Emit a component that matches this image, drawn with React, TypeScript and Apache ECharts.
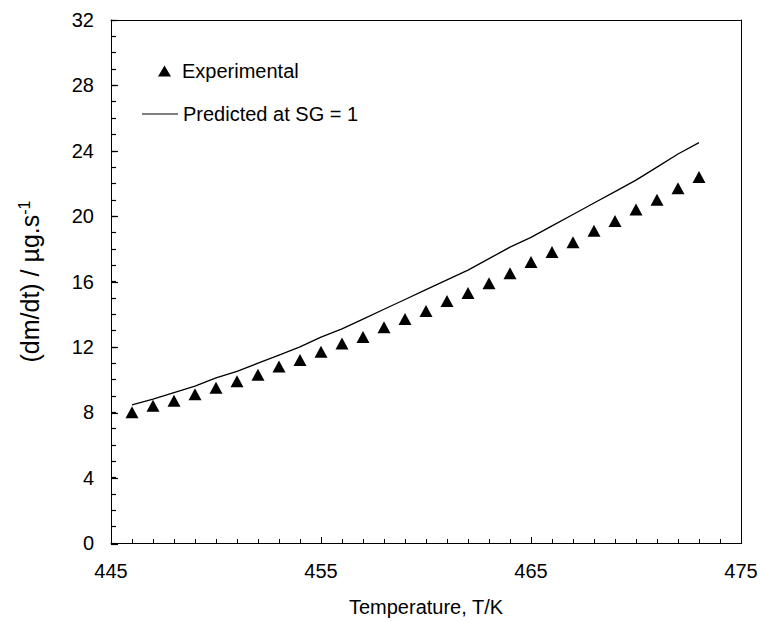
import React, { useEffect, useRef } from "react";
import * as echarts from "echarts";

const temperatures = [446, 447, 448, 449, 450, 451, 452, 453, 454, 455, 456, 457, 458, 459, 460, 461, 462, 463, 464, 465, 466, 467, 468, 469, 470, 471, 472, 473];
const experimental = [8.0, 8.4, 8.7, 9.1, 9.5, 9.9, 10.3, 10.8, 11.2, 11.7, 12.2, 12.6, 13.2, 13.7, 14.2, 14.8, 15.3, 15.9, 16.5, 17.2, 17.8, 18.4, 19.1, 19.7, 20.4, 21.0, 21.7, 22.4];
const predicted = [8.45, 8.8, 9.2, 9.6, 10.1, 10.5, 11.0, 11.5, 12.0, 12.6, 13.1, 13.7, 14.3, 14.9, 15.5, 16.1, 16.7, 17.4, 18.1, 18.7, 19.4, 20.1, 20.8, 21.5, 22.2, 23.0, 23.8, 24.5];

const X_MIN = 445;
const X_MAX = 475;
const X_MAJOR = 10;
const X_MINOR = 1;
const Y_MIN = 0;
const Y_MAX = 32;
const Y_MAJOR = 4;
const Y_MINOR = 1;

const FONT = "'Liberation Sans', Arial, Helvetica, sans-serif";

export default function App() {
  const ref = useRef<HTMLDivElement>(null);
  useEffect(() => {
    if (!ref.current) return;
    const chart = echarts.init(ref.current, null, { renderer: "svg" });
    const gridBox = { left: 111, right: 21, top: 20, bottom: 78 };
    const hiddenParts = {
      axisLabel: { show: false },
      splitLine: { show: false },
    };
    const hiddenY = (gridIndex: number) => ({
      gridIndex,
      type: "value",
      min: Y_MIN,
      max: Y_MAX,
      show: false,
    });
    chart.setOption({
      animation: false,
      backgroundColor: "#ffffff",
      textStyle: { fontFamily: FONT, color: "#000" },
      grid: [
        gridBox,
        { ...gridBox },
        // ticks drawn outward from a baseline a few px above the x axis, so they end on it
        { ...gridBox, bottom: 78 + 5 },
        { ...gridBox, bottom: 78 + 7 },
      ],
      legend: [
        {
          data: ["Experimental"],
          left: 153,
          top: 56,
          itemWidth: 13,
          itemHeight: 11,
          textStyle: { fontFamily: FONT, fontSize: 20, color: "#000", padding: [0, 0, 0, 6] },
        },
        {
          data: [{ name: "Predicted at SG = 1", icon: "path://M0,0L36,0L36,1L0,1Z" }],
          left: 137,
          top: 99,
          itemWidth: 36,
          itemHeight: 20,
          textStyle: { fontFamily: FONT, fontSize: 20, color: "#000", padding: 0 },
        },
      ],
      xAxis: [
        {
          gridIndex: 0,
          type: "value",
          min: X_MIN,
          max: X_MAX,
          interval: X_MAJOR,
          name: "Temperature, T/K",
          nameLocation: "middle",
          nameGap: 54,
          nameTextStyle: { fontFamily: FONT, fontSize: 20, color: "#000" },
          axisLine: { show: true, onZero: false, lineStyle: { color: "#000", width: 1 } },
          axisTick: { show: false },
          splitLine: { show: false },
          axisLabel: { fontFamily: FONT, fontSize: 20, color: "#000", margin: 18 },
        },
        {
          gridIndex: 0,
          type: "value",
          position: "top",
          min: X_MIN,
          max: X_MAX,
          axisLine: { show: true, onZero: false, lineStyle: { color: "#000", width: 1 } },
          axisTick: { show: false },
          ...hiddenParts,
        },
        {
          gridIndex: 1,
          type: "value",
          min: X_MIN,
          max: X_MAX,
          show: false,
        },
        {
          // minor x ticks
          gridIndex: 2,
          type: "value",
          position: "bottom",
          min: X_MIN,
          max: X_MAX,
          interval: X_MINOR,
          axisLine: { show: false, onZero: false },
          axisTick: { show: true, inside: false, length: 5, lineStyle: { color: "#000", width: 1 } },
          ...hiddenParts,
        },
        {
          // major x ticks
          gridIndex: 3,
          type: "value",
          position: "bottom",
          min: X_MIN,
          max: X_MAX,
          interval: X_MAJOR,
          axisLine: { show: false, onZero: false },
          axisTick: { show: true, inside: false, length: 7, lineStyle: { color: "#000", width: 1 } },
          ...hiddenParts,
        },
      ],
      yAxis: [
        {
          gridIndex: 0,
          type: "value",
          min: Y_MIN,
          max: Y_MAX,
          interval: Y_MINOR,
          name: "(dm/dt) / µg.s{sup|-1}",
          nameLocation: "middle",
          nameGap: 67,
          nameRotate: 90,
          nameTextStyle: {
            fontFamily: FONT,
            fontSize: 25,
            color: "#000",
            rich: {
              sup: { fontFamily: FONT, fontSize: 16, color: "#000", verticalAlign: "top", padding: [0, 0, 12, 0] },
            },
          },
          axisLine: { show: true, onZero: false, lineStyle: { color: "#000", width: 1 } },
          axisTick: { show: true, inside: true, length: 5, lineStyle: { color: "#000", width: 1.2 } },
          splitLine: { show: false },
          axisLabel: {
            fontFamily: FONT,
            fontSize: 20,
            color: "#000",
            margin: 17,
            interval: 0,
            formatter: (v: number) => ((v - Y_MIN) % Y_MAJOR === 0 ? String(v) : ""),
          },
        },
        {
          gridIndex: 0,
          type: "value",
          position: "right",
          min: Y_MIN,
          max: Y_MAX,
          axisLine: { show: true, onZero: false, lineStyle: { color: "#000", width: 1 } },
          axisTick: { show: false },
          ...hiddenParts,
        },
        {
          // major y ticks
          gridIndex: 1,
          type: "value",
          position: "left",
          min: Y_MIN,
          max: Y_MAX,
          interval: Y_MAJOR,
          axisLine: { show: false, onZero: false },
          axisTick: { show: true, inside: true, length: 7, lineStyle: { color: "#000", width: 1.2 } },
          ...hiddenParts,
        },
        hiddenY(2),
        hiddenY(3),
      ],
      series: [
        {
          name: "Experimental",
          type: "scatter",
          xAxisIndex: 0,
          yAxisIndex: 0,
          symbol: "triangle",
          symbolSize: [13, 12],
          itemStyle: { color: "#000", opacity: 1 },
          data: temperatures.map((t, i) => [t, experimental[i]]),
          z: 3,
        },
        {
          name: "Predicted at SG = 1",
          type: "line",
          xAxisIndex: 0,
          yAxisIndex: 0,
          showSymbol: false,
          symbol: "none",
          lineStyle: { color: "#000", width: 1.3 },
          itemStyle: { color: "#000" },
          data: temperatures.map((t, i) => [t, predicted[i]]),
          z: 2,
        },
      ],
    });
    return () => chart.dispose();
  }, []);
  return (
    <div
      ref={ref}
      style={{ position: "fixed", left: 0, top: 0, width: 762, height: 622 }}
    />
  );
}
